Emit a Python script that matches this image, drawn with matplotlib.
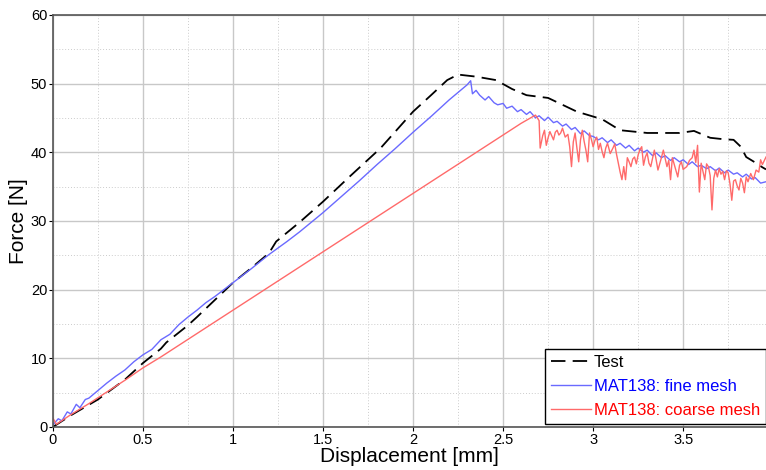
import numpy as np
import matplotlib
matplotlib.use('Agg')
import matplotlib.pyplot as plt
from matplotlib.ticker import MultipleLocator

plt.rcParams['font.family'] = ['Liberation Sans', 'DejaVu Sans']

# Test (experimental)
test_x = [0, 0.1, 0.25, 0.4, 0.5, 0.6, 0.63, 0.75, 0.8, 0.94, 1.0, 1.1, 1.2, 1.24,
          1.37, 1.5, 1.65, 1.82, 2.0, 2.1, 2.19, 2.25, 2.35, 2.46, 2.55, 2.63, 2.75,
          2.91, 3.05, 3.15, 3.3, 3.48, 3.56, 3.65, 3.72, 3.78, 3.82, 3.85, 3.9, 3.94, 3.96]
test_y = [0, 1.7, 4.0, 6.9, 9.3, 11.4, 12.3, 14.8, 16.0, 19.5, 21.0, 23.1, 25.3, 27.0,
          29.8, 32.8, 36.5, 40.6, 45.9, 48.3, 50.5, 51.3, 51.0, 50.5, 49.2, 48.3, 47.9,
          45.9, 44.8, 43.2, 42.8, 42.8, 43.1, 42.1, 41.9, 41.8, 40.8, 39.3, 38.5, 37.8, 37.5]

# MAT138 fine mesh
fine_x = [0, 0.03, 0.05, 0.08, 0.1, 0.13, 0.15, 0.18, 0.2, 0.25, 0.3, 0.35, 0.4, 0.45,
          0.5, 0.55, 0.6, 0.65, 0.7, 0.75, 0.8, 0.85, 0.9, 0.95, 1.0, 1.1, 1.2, 1.3,
          1.37, 1.5, 1.6, 1.7, 1.8, 1.9, 2.0, 2.1, 2.2, 2.3, 2.32,
          2.33, 2.35, 2.37, 2.4, 2.42, 2.45, 2.47, 2.5, 2.52, 2.55, 2.58, 2.6, 2.63,
          2.65, 2.68, 2.7, 2.73, 2.75, 2.78, 2.8, 2.83, 2.85, 2.88, 2.9, 2.93, 2.95,
          2.98, 3.0, 3.03, 3.05, 3.08, 3.1, 3.13, 3.15, 3.18, 3.2, 3.23, 3.25, 3.28,
          3.3, 3.33, 3.35, 3.38, 3.4, 3.43, 3.45, 3.48, 3.5, 3.53, 3.55, 3.58, 3.6,
          3.63, 3.65, 3.68, 3.7, 3.73, 3.75, 3.78, 3.8, 3.83, 3.85, 3.88, 3.9, 3.93, 3.96]
fine_y = [0.3, 1.2, 0.9, 2.2, 1.9, 3.3, 2.8, 4.0, 4.2, 5.3, 6.4, 7.4, 8.3, 9.5,
          10.5, 11.3, 12.7, 13.5, 14.9, 16.0, 17.0, 18.1, 19.0, 20.0, 21.0, 23.0, 25.1, 27.0,
          28.4, 31.2, 33.5, 35.8, 38.2, 40.5, 42.9, 45.2, 47.6, 49.8, 50.4,
          48.5, 49.0, 48.3, 47.6, 48.1, 47.2, 46.9, 47.1, 46.4, 46.7, 45.9, 46.2, 45.5,
          45.9, 45.0, 45.3, 44.6, 45.1, 44.3, 44.5, 43.8, 44.1, 43.3, 43.6, 42.7, 43.1,
          42.4, 42.3, 41.8, 42.1, 41.4, 41.8, 41.0, 41.3, 40.6, 41.0, 40.2, 40.6, 40.0,
          40.3, 39.5, 39.9, 39.2, 39.5, 38.8, 39.2, 38.6, 38.9, 38.2, 38.6, 37.9, 38.1,
          37.6, 37.9, 37.3, 37.7, 37.0, 37.4, 36.8, 37.0, 36.4, 36.8, 36.1, 36.3, 35.5, 35.7]

# MAT138 coarse mesh
coarse_x = [0, 0.02, 0.1, 0.2, 0.3, 0.4, 0.5, 0.6, 0.7, 0.8, 0.9, 1.0, 1.1, 1.2, 1.3,
            1.4, 1.5, 1.6, 1.7, 1.8, 1.9, 2.0, 2.1, 2.2, 2.3, 2.4, 2.5, 2.6, 2.68,
            2.70, 2.706, 2.72, 2.73, 2.74, 2.75, 2.76, 2.77, 2.78, 2.79, 2.8, 2.81, 2.82,
            2.83, 2.845, 2.86, 2.87, 2.88, 2.89, 2.9, 2.91, 2.92, 2.93, 2.94, 2.95,
            2.96, 2.97, 2.98, 2.99, 3.0, 3.01, 3.02, 3.03, 3.04, 3.05, 3.06, 3.07, 3.08,
            3.095, 3.11, 3.12, 3.13, 3.14, 3.15, 3.16, 3.17, 3.18, 3.19, 3.2, 3.21, 3.22,
            3.23, 3.24, 3.25, 3.26, 3.27, 3.28, 3.29, 3.3, 3.31, 3.32, 3.33, 3.34, 3.35,
            3.36, 3.375, 3.39, 3.4, 3.41, 3.42, 3.43, 3.44, 3.455, 3.47, 3.48, 3.49, 3.5,
            3.52, 3.535, 3.55, 3.56, 3.57, 3.58, 3.59, 3.6, 3.61, 3.62, 3.63, 3.64, 3.65,
            3.66, 3.67, 3.68, 3.69, 3.7, 3.71, 3.72, 3.73, 3.74, 3.75, 3.76, 3.77, 3.78,
            3.79, 3.8, 3.81, 3.82, 3.83, 3.84, 3.85, 3.86, 3.875, 3.89, 3.905, 3.92,
            3.93, 3.94, 3.96]
coarse_y = [1.3, 0.4, 1.8, 3.4, 5.1, 6.8, 8.6, 10.2, 11.9, 13.6, 15.3, 17.0, 18.7, 20.4, 22.1,
            23.8, 25.5, 27.2, 28.9, 30.6, 32.3, 34.0, 35.7, 37.4, 39.1, 40.8, 42.5, 44.2, 45.4,
            44.6, 40.6, 42.4, 43.2, 41.0, 42.1, 43.0, 42.4, 41.8, 42.9, 43.2, 42.5, 42.8,
            43.5, 42.2, 42.6, 40.8, 37.9, 41.5, 42.8, 40.6, 38.6, 41.8, 43.2, 41.6,
            40.3, 38.6, 42.8, 41.9, 40.8, 41.7, 42.2, 40.4, 41.3, 40.1, 39.2, 40.6, 41.3,
            39.8, 40.6, 41.2, 39.7, 38.4, 37.1, 36.0, 37.9, 36.0, 39.2, 38.6, 37.9, 39.0,
            39.3, 38.3, 39.6, 40.4, 40.8, 38.1, 39.3, 39.9, 38.4, 37.9, 39.1, 40.3, 38.9,
            37.4, 38.8, 40.3, 39.1, 37.9, 38.8, 36.0, 39.2, 37.8, 36.4, 38.1, 38.6, 37.5,
            37.9, 38.8, 39.2, 40.3, 38.5, 41.0, 34.2, 38.4, 37.2, 36.0, 38.3, 37.9, 36.6,
            31.6, 36.2, 37.4, 36.4, 37.6, 36.8, 37.2, 36.0, 37.3, 37.0, 35.4, 33.0, 35.8,
            36.0, 35.1, 34.5, 36.2, 35.5, 34.1, 36.4, 35.7, 36.9, 36.0, 37.4, 37.1,
            38.9, 38.2, 39.3]

xticks = [0, 0.5, 1, 1.5, 2, 2.5, 3, 3.5]
xtick_labels = ['0', '0.5', '1', '1.5', '2', '2.5', '3', '3.5']
yticks = [0, 10, 20, 30, 40, 50, 60]

fig = plt.figure(figsize=(7.66, 4.70), dpi=100)
ax = fig.add_axes([0.069, 0.0915, 0.931, 0.877])

ax.plot(test_x, test_y, color='black', linestyle=(0, (8, 4)), linewidth=1.3, label='Test')
ax.plot(fine_x, fine_y, color='#6a6aff', linewidth=1.0, label='MAT138: fine mesh')
ax.plot(coarse_x, coarse_y, color='#ff6a6a', linewidth=1.0, label='MAT138: coarse mesh')

ax.set_xlim(0, 3.96)
ax.set_ylim(0, 60)
ax.set_xticks(xticks)
ax.set_xticklabels(xtick_labels)
ax.set_yticks(yticks)
ax.xaxis.set_minor_locator(MultipleLocator(0.25))
ax.yaxis.set_minor_locator(MultipleLocator(5))
ax.grid(which='major', color='#c8c8c8', linestyle='-', linewidth=1.0)
ax.grid(which='minor', color='#cccccc', linestyle=(0, (1, 2)), linewidth=0.7)
ax.set_axisbelow(True)
ax.tick_params(which='major', direction='out', length=3, labelsize=10.5, pad=1)
ax.tick_params(which='minor', length=0)
ax.spines['right'].set_visible(False)
for s in ['left', 'bottom', 'top']:
    ax.spines[s].set_color('#555555')
    ax.spines[s].set_linewidth(1.2)

ax.set_xlabel('Displacement [mm]', fontsize=15, labelpad=0)
ax.set_ylabel('Force [N]', fontsize=15, labelpad=2)

leg = ax.legend(loc='lower right', bbox_to_anchor=(1.0, 0.007), borderaxespad=0,
                fancybox=False, edgecolor='black', framealpha=1, fontsize=12,
                handlelength=2.4, handletextpad=0.2, borderpad=0.35, labelspacing=0.55)
leg.get_frame().set_linewidth(1.0)
for txt, c in zip(leg.get_texts(), ['black', 'blue', 'red']):
    txt.set_color(c)

fig.savefig('out.png', dpi=100)
